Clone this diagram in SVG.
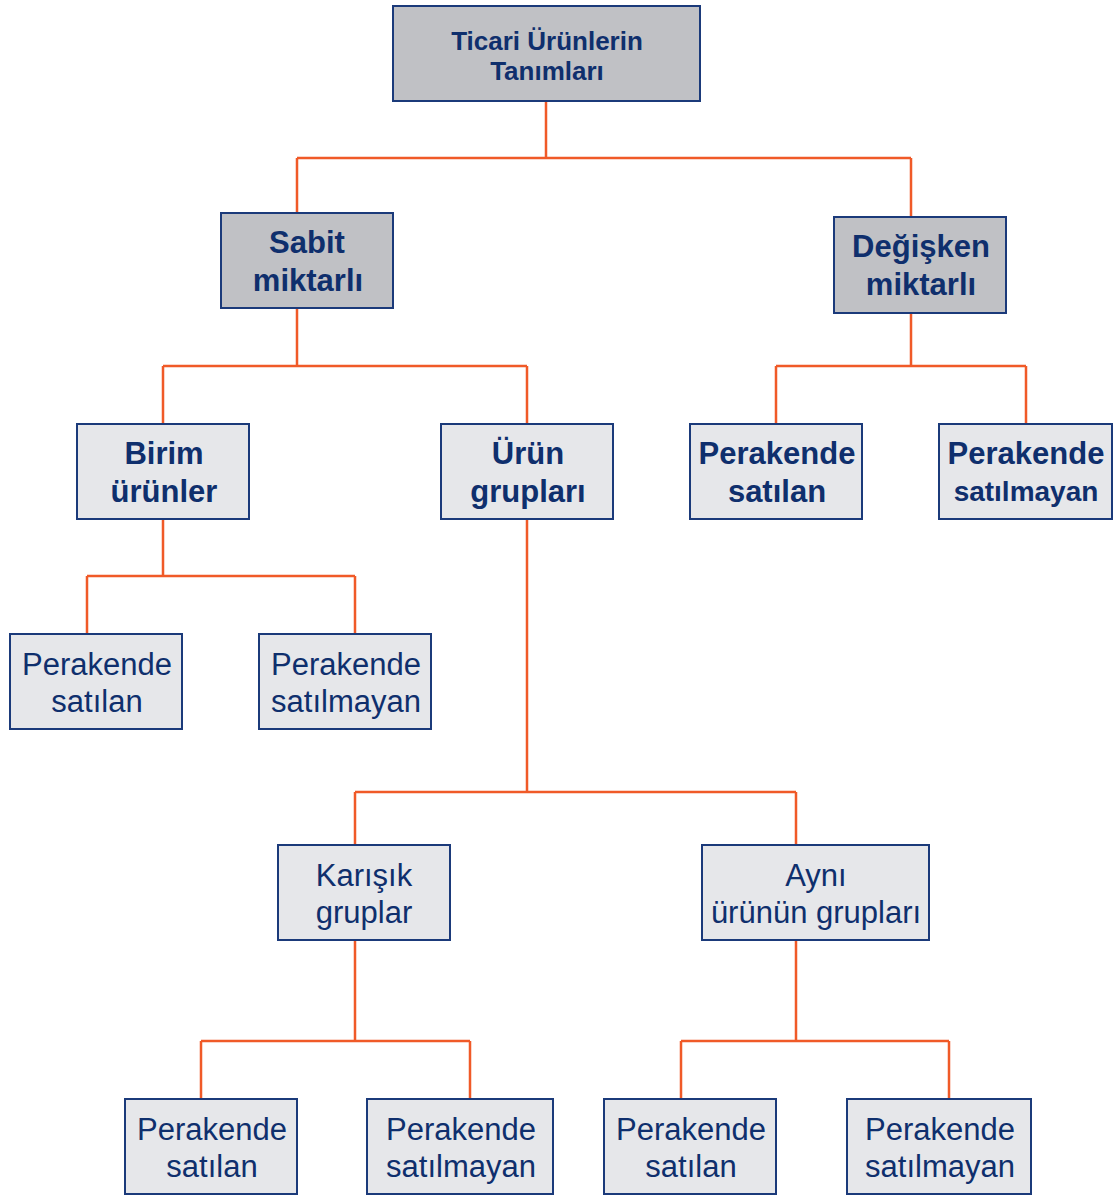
<svg xmlns="http://www.w3.org/2000/svg" width="1114" height="1196" viewBox="0 0 1114 1196">
<style>
.box{stroke:#1b3a7a;stroke-width:2}
.g{fill:#c0c1c5}
.l{fill:#e6e7ea}
text{font-family:"Liberation Sans",Arial,sans-serif;fill:#0f2f6d;text-anchor:middle}
.b{font-weight:bold;font-size:31px}
.t{font-weight:bold;font-size:26px}
.r{font-size:31px}
.sm{font-size:28px}
.conn{fill:none;stroke:#f05a28;stroke-width:2.5}
</style>
<rect width="1114" height="1196" fill="#ffffff"/>
<g id="connectors" class="conn">
<path d="M546 101V158M297 158H911M297 158V213M911 158V217"/>
<path d="M297 308V366M163 366H527M163 366V424M527 366V424"/>
<path d="M911 313V366M776 366H1026M776 366V424M1026 366V424"/>
<path d="M163 519V576M87 576H355M87 576V634M355 576V634"/>
<path d="M527 519V792M355 792H796M355 792V845M796 792V845"/>
<path d="M355 940V1041M201 1041H470M201 1041V1099M470 1041V1099"/>
<path d="M796 940V1041M681 1041H949M681 1041V1099M949 1041V1099"/>
</g>
<g id="root"><rect class="box g" x="393" y="6" width="307" height="95"/>
<text class="t" x="547" y="50">Ticari Ürünlerin</text>
<text class="t" x="547" y="80">Tanımları</text></g>
<g id="sabit"><rect class="box g" x="221" y="213" width="172" height="95"/>
<text class="b" x="307" y="253">Sabit</text><text class="b" x="308" y="291">miktarlı</text></g>
<g id="degisken"><rect class="box g" x="834" y="217" width="172" height="96"/>
<text class="b" x="921" y="257">Değişken</text><text class="b" x="921" y="295">miktarlı</text></g>
<g id="birim"><rect class="box l" x="77" y="424" width="172" height="95"/>
<text class="b" x="164" y="464">Birim</text><text class="b" x="164" y="502">ürünler</text></g>
<g id="urungruplari"><rect class="box l" x="441" y="424" width="172" height="95"/>
<text class="b" x="528" y="464">Ürün</text><text class="b" x="528" y="502">grupları</text></g>
<g id="deg-satilan"><rect class="box l" x="690" y="424" width="172" height="95"/>
<text class="b" x="777" y="464">Perakende</text><text class="b" x="777" y="502">satılan</text></g>
<g id="deg-satilmayan"><rect class="box l" x="939" y="424" width="173" height="95"/>
<text class="b" x="1026" y="464">Perakende</text><text class="b sm" x="1026" y="501">satılmayan</text></g>
<g id="birim-satilan"><rect class="box l" x="10" y="634" width="172" height="95"/>
<text class="r" x="97" y="675">Perakende</text><text class="r" x="97" y="712">satılan</text></g>
<g id="birim-satilmayan"><rect class="box l" x="259" y="634" width="172" height="95"/>
<text class="r" x="346" y="675">Perakende</text><text class="r" x="346" y="712">satılmayan</text></g>
<g id="karisik"><rect class="box l" x="278" y="845" width="172" height="95"/>
<text class="r" x="364" y="886">Karışık</text><text class="r" x="364" y="923">gruplar</text></g>
<g id="ayni"><rect class="box l" x="702" y="845" width="227" height="95"/>
<text class="r" x="816" y="886">Aynı</text><text class="r" x="816" y="923">ürünün grupları</text></g>
<g id="kar-satilan"><rect class="box l" x="125" y="1099" width="172" height="95"/>
<text class="r" x="212" y="1140">Perakende</text><text class="r" x="212" y="1177">satılan</text></g>
<g id="kar-satilmayan"><rect class="box l" x="367" y="1099" width="186" height="95"/>
<text class="r" x="461" y="1140">Perakende</text><text class="r" x="461" y="1177">satılmayan</text></g>
<g id="ayni-satilan"><rect class="box l" x="604" y="1099" width="172" height="95"/>
<text class="r" x="691" y="1140">Perakende</text><text class="r" x="691" y="1177">satılan</text></g>
<g id="ayni-satilmayan"><rect class="box l" x="847" y="1099" width="184" height="95"/>
<text class="r" x="940" y="1140">Perakende</text><text class="r" x="940" y="1177">satılmayan</text></g>
</svg>
